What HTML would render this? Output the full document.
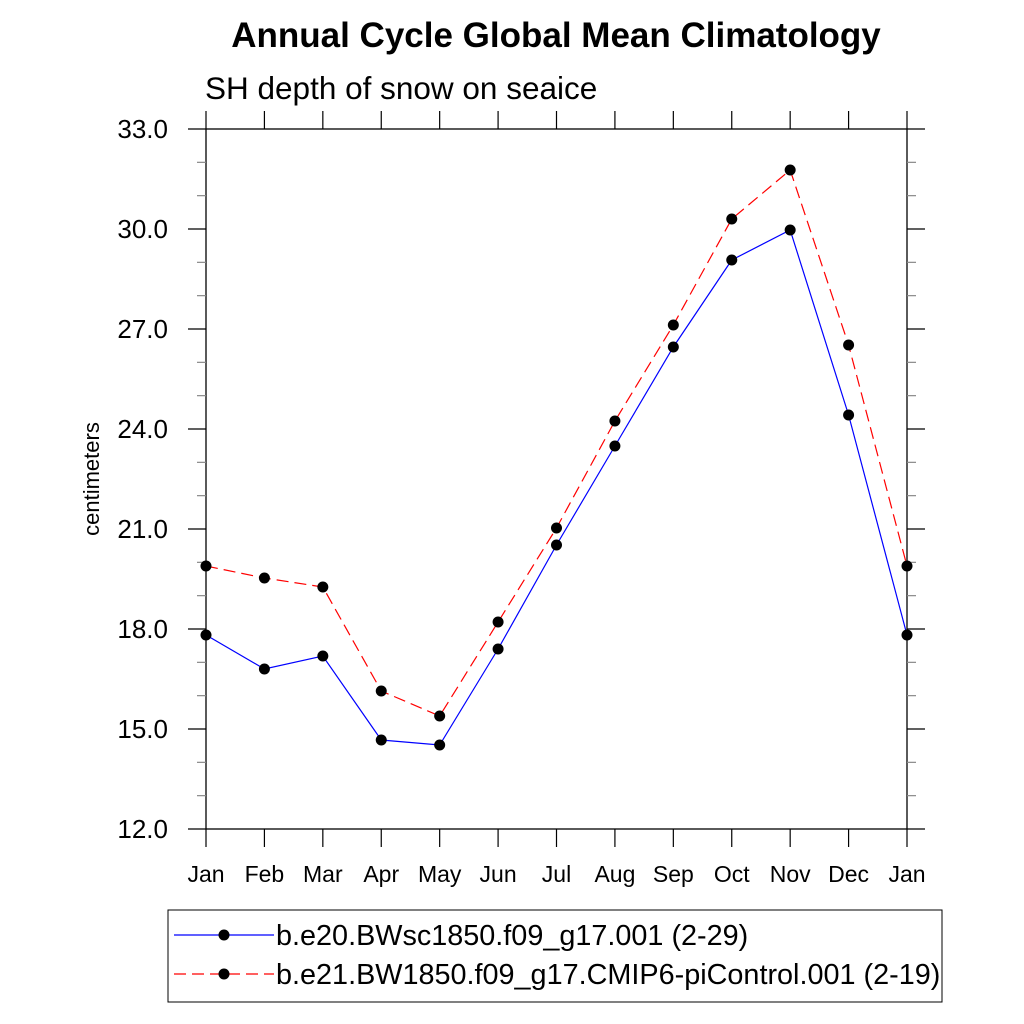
<!DOCTYPE html>
<html><head><meta charset="utf-8"><style>
body{margin:0;background:#fff;}
svg{display:block;font-family:"Liberation Sans",Arial,sans-serif;}
</style></head><body>
<svg id="chart" width="1024" height="1024" viewBox="0 0 1024 1024">
<text x="556" y="47" text-anchor="middle" font-size="35" font-weight="bold">Annual Cycle Global Mean Climatology</text>
<text x="205" y="99" font-size="31.5">SH depth of snow on seaice</text>
<text transform="translate(99,479) rotate(-90)" text-anchor="middle" font-size="22">centimeters</text>
<g id="axes"></g>
<g id="series"></g>
<g>
<rect x="168" y="910" width="774" height="92" fill="#fff" stroke="#000" stroke-width="1"/>
<line x1="174" y1="935" x2="274" y2="935" stroke="#0000ff" stroke-width="1.2"/>
<circle cx="224" cy="935" r="5.5" fill="#000"/>
<text x="276" y="945" font-size="28.8">b.e20.BWsc1850.f09_g17.001 (2-29)</text>
<line x1="174" y1="974" x2="274" y2="974" stroke="#ff0000" stroke-width="1.2" stroke-dasharray="12,6"/>
<circle cx="224" cy="974" r="5.5" fill="#000"/>
<text x="276" y="984" font-size="28.8">b.e21.BW1850.f09_g17.CMIP6-piControl.001 (2-19)</text>
</g>
</svg>
<script>
const months=["Jan","Feb","Mar","Apr","May","Jun","Jul","Aug","Sep","Oct","Nov","Dec","Jan"];
const blueValues=[17.82,16.8,17.19,14.67,14.52,17.4,20.52,23.49,26.46,29.07,29.97,24.42,17.82];
const redValues=[19.89,19.53,19.26,16.14,15.39,18.21,21.03,24.24,27.12,30.3,31.77,26.52,19.89];
const yTickLabels=["12.0","15.0","18.0","21.0","24.0","27.0","30.0","33.0"];
const X0=206,X1=907,Y0=829,Y1=129,YMIN=12,YMAX=33;
const NS="http://www.w3.org/2000/svg";
function xs(i){return X0+(X1-X0)*i/(months.length-1);}
function ys(v){return Y0-(v-YMIN)/(YMAX-YMIN)*(Y0-Y1);}
function mk(tag,attrs,parent){const e=document.createElementNS(NS,tag);for(const k in attrs)e.setAttribute(k,attrs[k]);parent.appendChild(e);return e;}
const ax=document.getElementById('axes');
const fr=mk('rect',{x:X0,y:Y1,width:X1-X0,height:Y0-Y1,fill:'none',stroke:'#000','stroke-width':1.3},ax);


for(let v=YMIN;v<=YMAX;v+=1){
  const y=ys(v);const major=(v-YMIN)%3===0;const L=major?18:9;
  const t1=mk('line',{x1:X0-L,y1:y,x2:X0,y2:y,stroke:major?'#000':'#888','stroke-width':1.2},ax);
  
  
  const t2=mk('line',{x1:X1,y1:y,x2:X1+L,y2:y,stroke:major?'#000':'#888','stroke-width':1.2},ax);
  
  
}
yTickLabels.forEach(function(s){
  const t=mk('text',{x:X0-38,y:ys(parseFloat(s))+9,'text-anchor':'end','font-size':26},ax);t.textContent=s;
  
  
});
months.forEach(function(m,i){
  const x=xs(i);
  const a=mk('line',{x1:x,y1:Y1-18,x2:x,y2:Y1,stroke:'#000','stroke-width':1.2},ax);
  
  
  const b=mk('line',{x1:x,y1:Y0,x2:x,y2:Y0+18,stroke:'#000','stroke-width':1.2},ax);
  
  
  const t=mk('text',{x:x,y:Y0+53,'text-anchor':'middle','font-size':23},ax);t.textContent=m;
  
  
});
const sg=document.getElementById('series');
function drawSeries(vals,color,dash,name){
  const pts=vals.map((v,i)=>xs(i)+','+ys(v)).join(' ');
  const pl=mk('polyline',{points:pts,fill:'none',stroke:color,'stroke-width':1.2,'stroke-dasharray':dash},sg);
  
  
  vals.forEach(function(v,i){
    const c=mk('circle',{cx:xs(i),cy:ys(v),r:5.5,fill:'#000'},sg);
    
    
  });
}
drawSeries(blueValues,'#0000ff','none','blue-series');
drawSeries(redValues,'#ff0000','12,6','red-series');
</script>
</body></html>
